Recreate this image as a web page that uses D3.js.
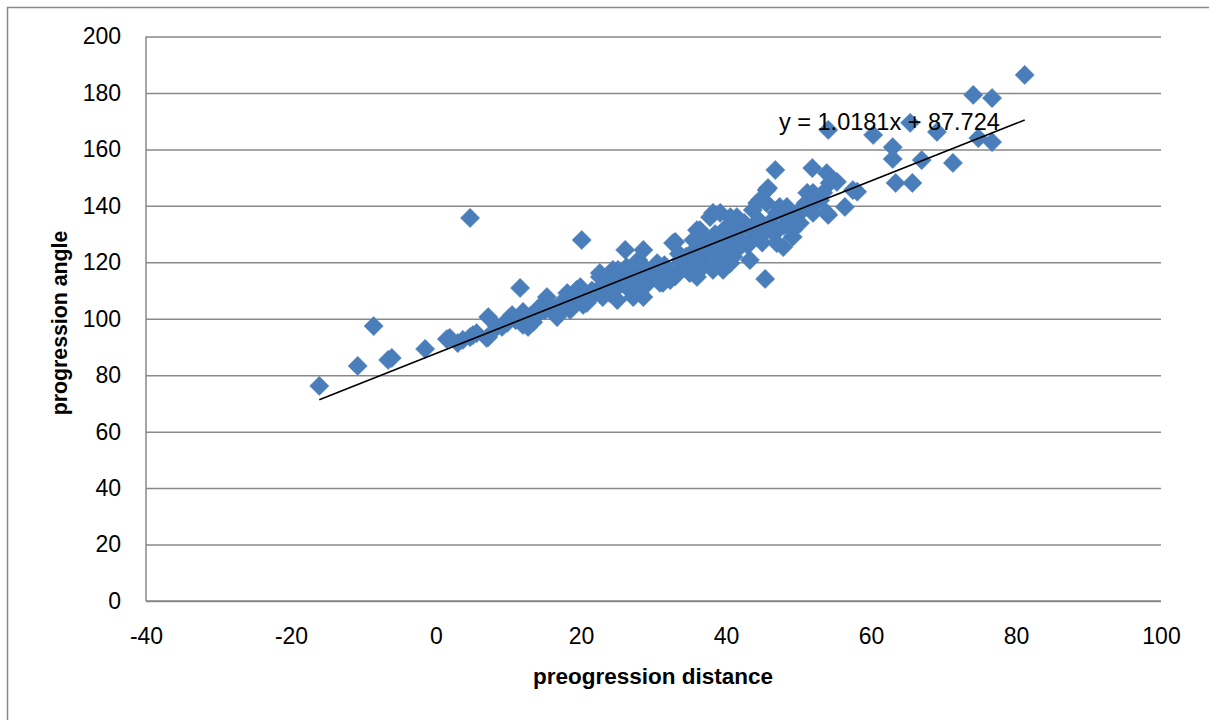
<!DOCTYPE html>
<html>
<head>
<meta charset="utf-8">
<script src="https://cdn.jsdelivr.net/npm/d3@7"></script>
<style>
  html, body { margin: 0; padding: 0; background: #fff; }
  svg { display: block; }
  text { font-family: "Liberation Sans", Arial, sans-serif; fill: #000; }
</style>
</head>
<body>
<svg id="chart" width="1209" height="720"></svg>
<script>
// ---- data ----
const distance = [
  -16.1, -10.8, -8.6, -6.6, -6.1, -1.5, 4.7,
  1.5, 1.9, 3.0, 3.7, 4.7, 5.1, 5.6, 7.0, 7.2, 7.2, 8.4, 9.1, 9.8, 10.5,
  11.6, 12.0, 12.0, 12.7, 13.4, 14.3, 15.3, 15.3, 16.7, 16.7, 17.5, 18.1, 18.5, 18.5,
  19.4, 19.9, 19.9, 20.1, 20.3, 20.8, 22.6, 22.6, 23.0, 24.0, 24.4, 25.0, 25.1, 25.4,
  26.1, 26.3, 26.3, 27.2, 27.9, 28.1, 28.6, 28.6, 29.1, 29.9, 30.5, 30.9, 31.3, 32.3,
  32.7, 33.0, 33.7, 33.7, 35.0, 35.5, 36.0, 36.0, 36.4, 36.8, 37.8, 38.2, 38.2, 38.8,
  39.2, 39.6, 40.1, 40.6, 40.6, 41.5, 41.5, 41.9, 43.3, 43.7, 44.3, 44.7, 45.4, 45.6,
  45.6, 45.6, 45.8, 46.5, 46.8, 47.0, 47.0, 47.4, 47.9, 48.4, 48.4, 49.2, 49.2, 49.2,
  50.2, 50.6, 51.2, 51.9, 52.0, 52.0, 53.4, 53.9, 53.9, 54.1, 54.1, 54.3, 55.3, 56.4,
  57.5, 58.1, 60.3, 63.0, 63.0, 63.4, 65.4, 65.7, 67.0, 69.1, 71.3, 74.1, 74.8, 76.7,
  76.7, 81.2,
  10, 11, 12, 13, 14, 15, 16, 17, 18, 19, 20, 21, 21.5, 22, 23, 24, 25, 26, 27, 27.5,
  28, 29, 30, 31, 31.5, 32, 33, 33.5, 34, 34.5, 35, 35.5, 36, 36.5, 37, 37.5, 38, 38.5,
  39, 39.5, 40, 40.5, 41, 41.5, 42, 42.5, 43, 43.5, 44, 44.5, 45, 46, 47, 48, 49, 50,
  51, 52, 53
];
const angle = [
  76.2, 83.3, 97.4, 85.4, 86.1, 89.3, 135.7,
  92.8, 93.2, 91.4, 92.5, 93.5, 94.2, 94.9, 93.2, 100.6, 93.5, 97.1, 97.1, 98.5, 101.3,
  110.9, 97.8, 102.4, 97.1, 98.8, 104.2, 105.9, 107.7, 102.0, 100.6, 103.1, 109.1, 105.6, 103.1,
  110.2, 109.1, 111.2, 127.9, 104.9, 105.6, 116.2, 114.8, 107.7, 109.1, 117.3, 106.6, 117.3, 113.7,
  124.4, 118.3, 111.2, 107.7, 120.8, 109.1, 107.7, 124.4, 117.3, 117.3, 119.7, 112.7, 112.7, 113.7,
  126.8, 127.2, 120.8, 119.7, 116.2, 127.9, 131.4, 114.8, 131.4, 118.3, 136.0, 137.5, 117.3, 125.4,
  137.5, 117.3, 132.5, 136.0, 119.7, 127.9, 136.0, 125.4, 120.8, 138.5, 141.0, 142.1, 114.1, 145.6,
  131.4, 141.0, 146.3, 130.4, 152.7, 137.5, 126.8, 139.6, 125.4, 139.6, 136.0, 131.4, 132.5, 129.0,
  133.9, 139.6, 144.6, 153.4, 137.5, 144.6, 144.6, 151.6, 137.5, 136.8, 166.9, 148.1, 148.5, 139.6,
  145.6, 145.0, 165.1, 160.8, 156.6, 148.1, 169.4, 148.1, 156.2, 166.2, 155.2, 179.3, 164.0, 178.2,
  162.6, 186.4,
  100, 99.5, 100, 101, 101.5, 103, 104, 105, 107, 106, 108, 108, 110, 109, 112, 113, 111, 115, 113, 116,
  114, 112, 115, 116, 119, 117, 115, 123, 118, 122, 120, 124, 122, 126, 121, 128, 124, 130,
  122, 127, 125, 130, 122, 132, 128, 134, 126, 131, 129, 135, 127, 134, 131, 133, 136, 137,
  141, 140, 142
];
const xTicks = [-40, -20, 0, 20, 40, 60, 80, 100];
const yTicks = [0, 20, 40, 60, 80, 100, 120, 140, 160, 180, 200];
const slope = 1.0181;
const intercept = 87.724;
const equationLabel = "y = 1.0181x + 87.724";
const xTitle = "preogression distance";
const yTitle = "progression angle";

// ---- layout ----
const svg = d3.select("#chart");
const L = 146, R = 1161, T = 36.5, B = 601;
const x = d3.scaleLinear().domain([-40, 100]).range([L, R]);
const y = d3.scaleLinear().domain([0, 200]).range([B, T]);
const gridColor = "#898989";
const plainFmt = d => String(d);

// outer chart frame
svg.append("rect")
  .attr("x", 7.5).attr("y", 7.5).attr("width", 1230).attr("height", 740)
  .attr("fill", "none").attr("stroke", gridColor).attr("stroke-width", 1.5);

// horizontal gridlines + y tick labels
const yAxis = d3.axisLeft(y).tickValues(yTicks).tickFormat(plainFmt)
  .tickSize(-(R - L)).tickSizeOuter(0).tickPadding(25);
const gy = svg.append("g").attr("transform", `translate(${L},0)`).call(yAxis);
gy.select(".domain").remove();
gy.selectAll(".tick line").attr("stroke", gridColor).attr("stroke-width", 1.5);
gy.selectAll(".tick text").attr("font-size", 23).attr("font-family", "Liberation Sans, Arial, sans-serif").attr("fill", "#000");

// x axis labels
const xAxis = d3.axisBottom(x).tickValues(xTicks).tickFormat(plainFmt).tickSize(0).tickPadding(27);
const gx = svg.append("g").attr("transform", `translate(0,${B})`).call(xAxis);
gx.select(".domain").remove();
gx.selectAll(".tick text").attr("font-size", 23).attr("font-family", "Liberation Sans, Arial, sans-serif").attr("fill", "#000");

// axis lines
svg.append("line").attr("x1", L).attr("x2", L).attr("y1", T).attr("y2", B)
  .attr("stroke", gridColor).attr("stroke-width", 1.5);
svg.append("line").attr("x1", L).attr("x2", R).attr("y1", B).attr("y2", B)
  .attr("stroke", gridColor).attr("stroke-width", 1.5);

// markers
const pts = distance.map((d, i) => ({ d, a: angle[i] }));
const diamond = d3.symbol().type(d3.symbolSquare).size(185);
svg.append("g").selectAll("path").data(pts).join("path")
  .attr("d", diamond)
  .attr("transform", p => `translate(${x(p.d)},${y(p.a)}) rotate(45)`)
  .attr("fill", "#4A7EBB")
  .attr("stroke", "#4F81BD").attr("stroke-width", 0.5);

// trendline over the data range
const [xmin, xmax] = d3.extent(distance);
svg.append("line")
  .attr("x1", x(xmin)).attr("y1", y(slope * xmin + intercept))
  .attr("x2", x(xmax)).attr("y2", y(slope * xmax + intercept))
  .attr("stroke", "#000").attr("stroke-width", 1.6);

// equation label
svg.append("text").attr("x", 779).attr("y", 130)
  .attr("font-size", 23.5).text(equationLabel);

// axis titles
svg.append("text").attr("x", 653).attr("y", 684)
  .attr("text-anchor", "middle").attr("font-size", 22.5).attr("font-weight", "bold")
  .text(xTitle);
svg.append("text").attr("transform", `translate(67,323) rotate(-90)`)
  .attr("text-anchor", "middle").attr("font-size", 21.3).attr("font-weight", "bold")
  .text(yTitle);
</script>
</body>
</html>
